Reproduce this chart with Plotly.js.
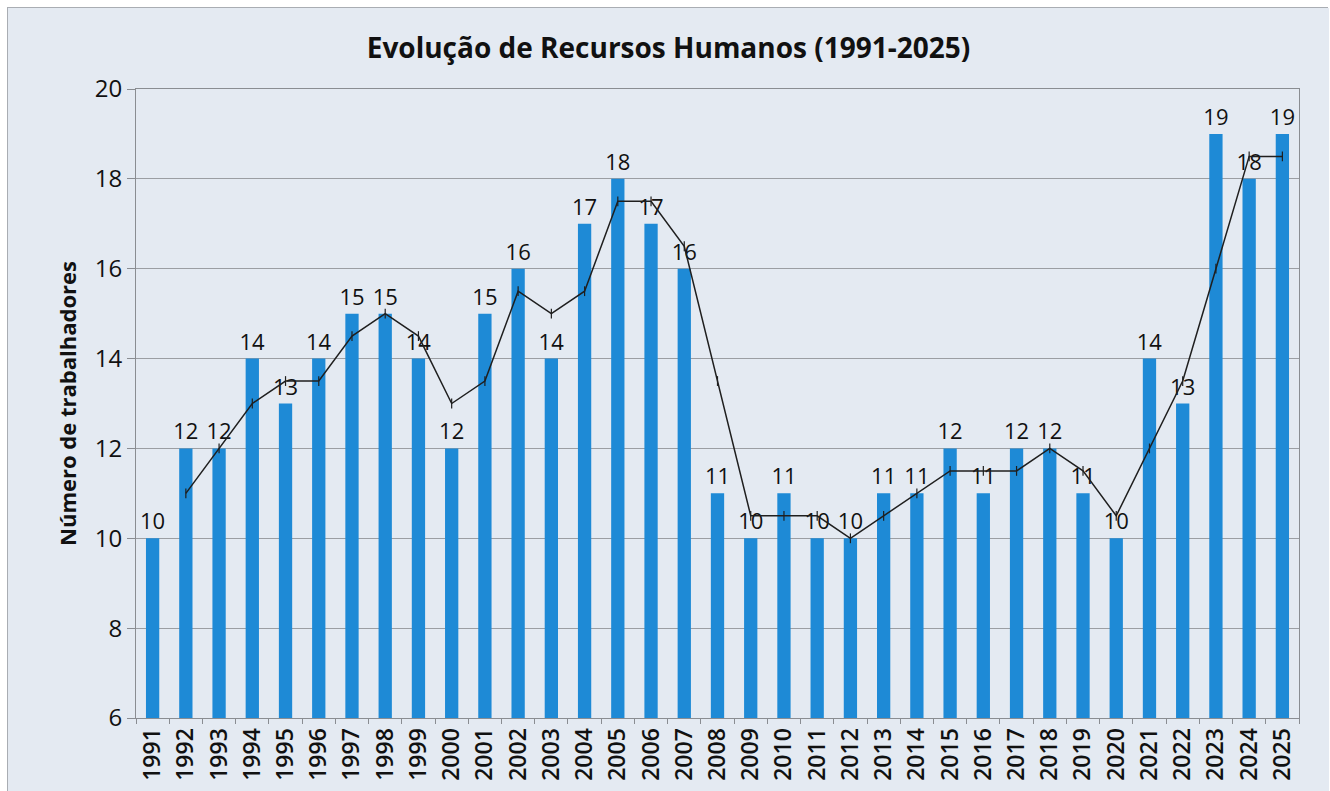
<!DOCTYPE html>
<html>
<head>
<meta charset="utf-8">
<script src="https://cdn.plot.ly/plotly-3.0.1.min.js"></script>
<style>
html,body{margin:0;padding:0;background:#ffffff;overflow:hidden;}
#chart{position:absolute;left:7px;top:7px;width:1321px;height:800px;border:1px solid #a9adb3;box-sizing:border-box;}
</style>
</head>
<body>
<div id="chart"></div>
<script>
const years = ['1991','1992','1993','1994','1995','1996','1997','1998','1999','2000','2001','2002','2003','2004','2005','2006','2007','2008','2009','2010','2011','2012','2013','2014','2015','2016','2017','2018','2019','2020','2021','2022','2023','2024','2025'];
const workers = [10,12,12,14,13,14,15,15,14,12,15,16,14,17,18,17,16,11,10,11,10,10,11,11,12,11,12,12,11,10,14,13,19,18,19];
const trendYears = ['1992','1993','1994','1995','1996','1997','1998','1999','2000','2001','2002','2003','2004','2005','2006','2007','2008','2009','2010','2011','2012','2013','2014','2015','2016','2017','2018','2019','2020','2021','2022','2023','2024','2025'];
const trendValues = [11,12,13,13.5,13.5,14.5,15,14.5,13,13.5,15.5,15,15.5,17.5,17.5,16.5,13.5,10.5,10.5,10.5,10,10.5,11,11.5,11.5,11.5,12,11.5,10.5,12,13.5,16,18.5,18.5];
const yTicks = [6,8,10,12,14,16,18,20];

const font = 'Open Sans, Lato, sans-serif';

const bars = {
  type:'bar', x:years, y:workers,
  marker:{color:'#1e8ad6'},
  text:workers.map(String), textposition:'outside', constraintext:'none',
  textfont:{family:font, size:22, color:'#111111', weight:500},
  cliponaxis:false, hoverinfo:'x+y'
};
const trend = {
  type:'scatter', mode:'lines+markers', x:trendYears, y:trendValues,
  line:{color:'#1f1f1f', width:1.5},
  marker:{symbol:'line-ns-open', size:7, color:'#1f1f1f', line:{color:'#1f1f1f', width:1.2}},
  cliponaxis:false, hoverinfo:'x+y'
};

const layout = {
  width:1321, height:800,
  paper_bgcolor:'#e4eaf2', plot_bgcolor:'#e4eaf2',
  margin:{l:128, r:30, t:81, b:90},
  showlegend:false,
  bargap:0.6,
  title:{text:'<b>Evolução de Recursos Humanos (1991-2025)</b>', x:0.5, xref:'container', xanchor:'center', y:0.95, yanchor:'middle',
         font:{family:font, size:28, color:'#111111'}},
  xaxis:{type:'category', range:[-0.5, 34.5], tickangle:-90, tickfont:{family:font, size:23, color:'#111111', weight:600},
         showline:true, linecolor:'#8a8d92', linewidth:1, mirror:true,
         ticks:'outside', ticklen:5, tickcolor:'#8a8d92', tickson:'boundaries',
         showgrid:false, automargin:false},
  yaxis:{range:[6,20], tickvals:yTicks, ticktext:yTicks.map(String),
         tickfont:{family:font, size:24, color:'#111111', weight:500},
         showline:true, linecolor:'#8a8d92', linewidth:1, mirror:true,
         ticks:'outside', ticklen:8, tickcolor:'#8a8d92',
         gridcolor:'#9b9ea3', gridwidth:1, zeroline:false, automargin:false,
         title:{text:'<b>Número de trabalhadores</b>', standoff:12, font:{family:font, size:22, color:'#111111'}}}
};

Plotly.newPlot('chart', [bars, trend], layout, {displayModeBar:false, staticPlot:true});
</script>
</body>
</html>
